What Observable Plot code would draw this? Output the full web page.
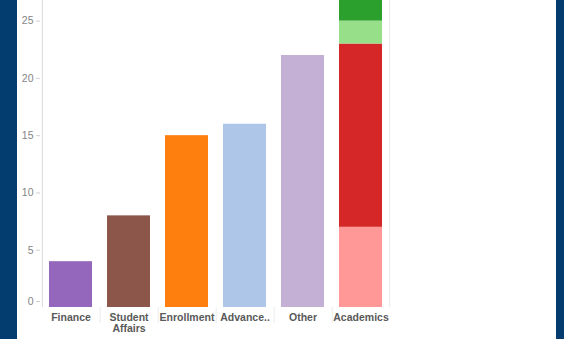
<!DOCTYPE html>
<html><head><meta charset="utf-8">
<script src="https://cdn.jsdelivr.net/npm/d3@7"></script>
<script src="https://cdn.jsdelivr.net/npm/@observablehq/plot@0.6"></script>
<style>
html,body{margin:0;padding:0;background:#033d6f;width:564px;height:339px;overflow:hidden;}
#panel{position:absolute;left:17px;top:0;width:539px;height:339px;background:#fff;}
#panel svg{display:block;}
</style></head><body><div id="panel"></div>
<script>
const categories = ["Finance", "Student\nAffairs", "Enrollment", "Advance..", "Other", "Academics"];
const singleValues = [4, 8, 15, 16, 22];
const academicsSegments = ["Academics 1", "Academics 2", "Academics 3", "Academics 4"];
const academicsValues = [7, 16, 2, 3];
const segmentColors = ["#9467bd", "#8c564b", "#ff7f0e", "#aec7e8", "#c5b0d5", "#ff9896", "#d62728", "#98df8a", "#2ca02c"];
const yTicks = [5, 10, 15, 20, 25];
const yTop = 26.8;

const rows = [
  ...categories.slice(0, 5).map((c, i) => ({category: c, segment: c, value: singleValues[i]})),
  ...academicsSegments.map((s, i) => ({category: categories[5], segment: s, value: academicsValues[i]}))
];
const segDomain = rows.map(d => d.segment);
const step = 350 / categories.length;

const chart = Plot.plot({
  width: 539, height: 339,
  marginLeft: 23, marginRight: 166, marginTop: 0, marginBottom: 32,
  style: {fontFamily: "Liberation Sans, Arial, sans-serif", fontSize: "10.5px", background: "white", overflow: "visible"},
  x: {domain: categories, paddingInner: 0.26, paddingOuter: 0.13, label: null},
  y: {domain: [0, yTop], label: null},
  color: {domain: segDomain, range: segmentColors},
  marks: [
    Plot.ruleX([categories[0]], {dx: -step / 2 + 0.5, stroke: "#d8d8d8"}),
    Plot.ruleX([categories[categories.length - 1]], {dx: step / 2 - 0.5, stroke: "#e8e8e8"}),
    Plot.barY(rows, {x: "category", y: "value", fill: "segment", clip: true}),
    Plot.axisY({ticks: yTicks, tickSize: 4, tickPadding: 3, stroke: "#d0d0d0", fill: "#858585", label: null}),
    Plot.axisY({ticks: [0], tickSize: 4, tickPadding: 3, dy: -6, stroke: "#d0d0d0", fill: "#858585", label: null}),
    Plot.axisX({ticks: categories.slice(0, 5), text: null, tickSize: 16, dx: step / 2, stroke: "#ececec", label: null}),
    Plot.axisX({tickSize: 0, tickPadding: 5, line: true, stroke: "#dcdcdc", fill: "#595959", fontWeight: "bold", lineHeight: 1.1, label: null})
  ]
});
document.getElementById("panel").appendChild(chart);
</script>
</body></html>
